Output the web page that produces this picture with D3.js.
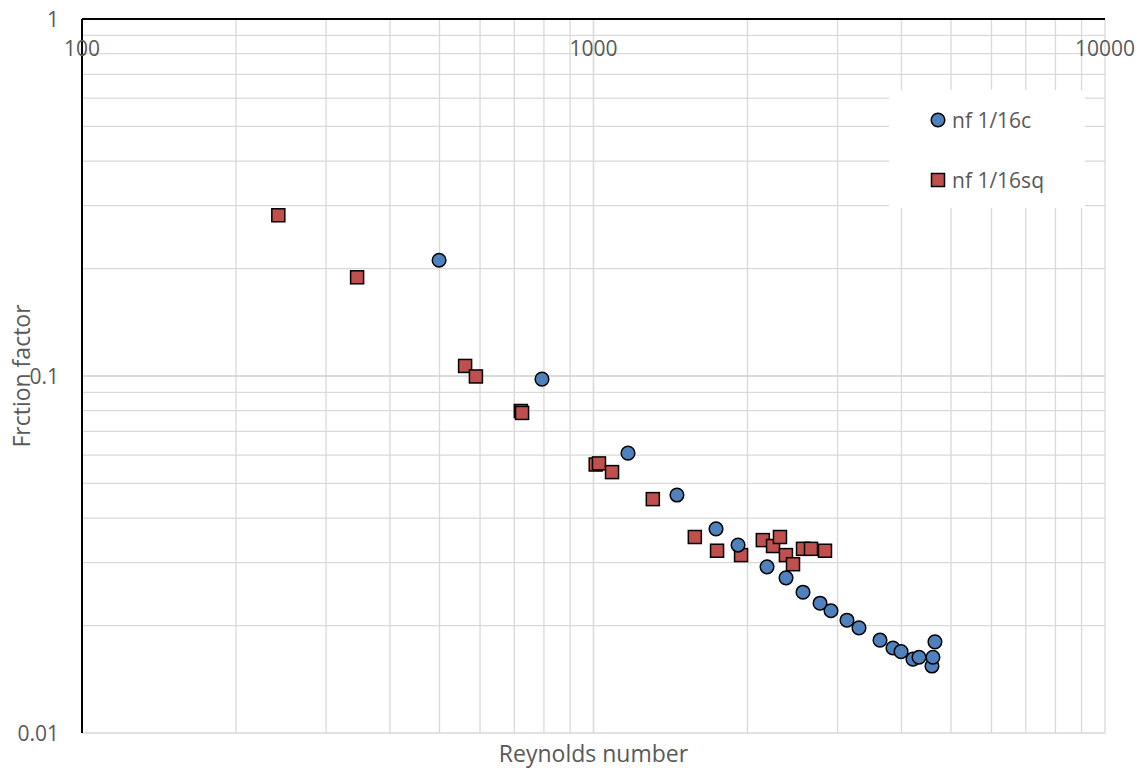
<!DOCTYPE html>
<html>
<head>
<meta charset="utf-8">
<script src="https://cdnjs.cloudflare.com/ajax/libs/d3/7.8.5/d3.min.js"></script>
<style>
  body { margin: 0; background: #fff; }
  text { font-family: "Open Sans", "Liberation Sans", sans-serif; fill: #595959; }
</style>
</head>
<body>
<div id="chart"></div>
<script>
// series: Reynolds number / friction factor
var circleRe = [499, 793, 1168, 1456, 1736, 1917, 2184, 2379, 2568, 2773, 2913, 3130, 3304, 3632, 3850, 3993, 4213, 4329, 4589, 4609, 4651];
var circleF  = [0.211, 0.098, 0.0608, 0.0464, 0.0373, 0.0336, 0.0292, 0.0272, 0.0248, 0.0231, 0.0220, 0.0207, 0.0197, 0.0182, 0.0173, 0.0169, 0.0161, 0.0163, 0.0154, 0.0163, 0.0180];

var squareRe = [242, 345, 561, 589, 721, 725, 1010, 1025, 1087, 1306, 1578, 1744, 1943, 2143, 2244, 2315, 2378, 2455, 2568, 2662, 2835];
var squareF  = [0.282, 0.189, 0.1067, 0.0997, 0.0798, 0.0788, 0.0565, 0.0569, 0.0538, 0.0452, 0.0354, 0.0324, 0.0315, 0.0347, 0.0334, 0.0354, 0.0315, 0.0297, 0.0328, 0.0328, 0.0324];

var seriesNames = ["nf 1/16c", "nf 1/16sq"];
var xTicks = [100, 1000, 10000];
var yTicks = [0.01, 0.1, 1];

var margin = {top: 19, right: 42, bottom: 35, left: 82},
    width = 1147 - margin.left - margin.right,
    height = 768 - margin.top - margin.bottom;

var svg = d3.select("#chart")
  .append("svg")
  .attr("width", 1147)
  .attr("height", 768)
  .append("g")
  .attr("transform", "translate(" + margin.left + "," + margin.top + ")");

var x = d3.scaleLog().domain([100, 10000]).range([0, width]);
var y = d3.scaleLog().domain([0.01, 1]).range([height, 0]);

// minor + major gridlines
var xGrid = [];
[100, 1000].forEach(function(d) { for (var k = 1; k <= 10; k++) xGrid.push(d * k); });
var yGrid = [];
[0.01, 0.1].forEach(function(d) { for (var k = 1; k <= 10; k++) yGrid.push(d * k); });

svg.selectAll(".vgrid").data(xGrid).enter().append("line")
  .attr("x1", function(d) { return x(d); }).attr("x2", function(d) { return x(d); })
  .attr("y1", 0).attr("y2", height)
  .attr("stroke", "#d9d9d9").attr("stroke-width", 1.3);

svg.selectAll(".hgrid").data(yGrid).enter().append("line")
  .attr("y1", function(d) { return y(d); }).attr("y2", function(d) { return y(d); })
  .attr("x1", 0).attr("x2", width)
  .attr("stroke", "#d9d9d9").attr("stroke-width", 1.3);

// axis lines (x axis crosses at y = 1, so it sits on top)
svg.append("line").attr("x1", 0).attr("x2", width).attr("y1", 0).attr("y2", 0)
  .attr("stroke", "#000").attr("stroke-width", 2);
svg.append("line").attr("x1", 0).attr("x2", 0).attr("y1", 0).attr("y2", height)
  .attr("stroke", "#000").attr("stroke-width", 2);

// tick labels
svg.selectAll(".xlab").data(xTicks).enter().append("text")
  .attr("x", function(d) { return x(d); })
  .attr("y", 37)
  .attr("text-anchor", "middle")
  .style("font-size", "21px")
  .text(function(d) { return d; });

svg.selectAll(".ylab").data(yTicks).enter().append("text")
  .attr("x", -23)
  .attr("y", function(d) { return y(d) + 8; })
  .attr("text-anchor", "end")
  .style("font-size", "21px")
  .text(function(d) { return d; });

// axis titles
svg.append("text")
  .attr("x", width / 2)
  .attr("y", height + 29)
  .attr("text-anchor", "middle")
  .style("font-size", "23px")
  .text("Reynolds number");

svg.append("text")
  .attr("transform", "rotate(-90)")
  .attr("x", -height / 2)
  .attr("y", -52)
  .attr("text-anchor", "middle")
  .style("font-size", "23px")
  .text("Frction factor");

// legend
var legend = svg.append("g").attr("transform", "translate(" + (889 - margin.left) + "," + (90 - margin.top) + ")");
legend.append("rect").attr("width", 196).attr("height", 118).attr("fill", "#fff");
legend.append("circle").attr("cx", 49).attr("cy", 30).attr("r", 6.8)
  .attr("fill", "#4f81bd").attr("stroke", "#000").attr("stroke-width", 1.5);
legend.append("rect").attr("x", 42.5).attr("y", 83.5).attr("width", 13).attr("height", 13)
  .attr("fill", "#c0504d").attr("stroke", "#000").attr("stroke-width", 1.5);
legend.selectAll(".ltxt").data(seriesNames).enter().append("text")
  .attr("x", 63)
  .attr("y", function(d, i) { return 38 + i * 60; })
  .style("font-size", "21px")
  .text(function(d) { return d; });

// squares drawn first, circles on top
var sqData = squareRe.map(function(d, i) { return {re: d, f: squareF[i]}; });
var ciData = circleRe.map(function(d, i) { return {re: d, f: circleF[i]}; });

svg.selectAll(".sq").data(sqData).enter().append("rect")
  .attr("x", function(d) { return x(d.re) - 6.5; })
  .attr("y", function(d) { return y(d.f) - 6.5; })
  .attr("width", 13).attr("height", 13)
  .attr("fill", "#c0504d").attr("stroke", "#000").attr("stroke-width", 1.5);

svg.selectAll(".ci").data(ciData).enter().append("circle")
  .attr("cx", function(d) { return x(d.re); })
  .attr("cy", function(d) { return y(d.f); })
  .attr("r", 6.8)
  .attr("fill", "#4f81bd").attr("stroke", "#000").attr("stroke-width", 1.5);
</script>
</body>
</html>
